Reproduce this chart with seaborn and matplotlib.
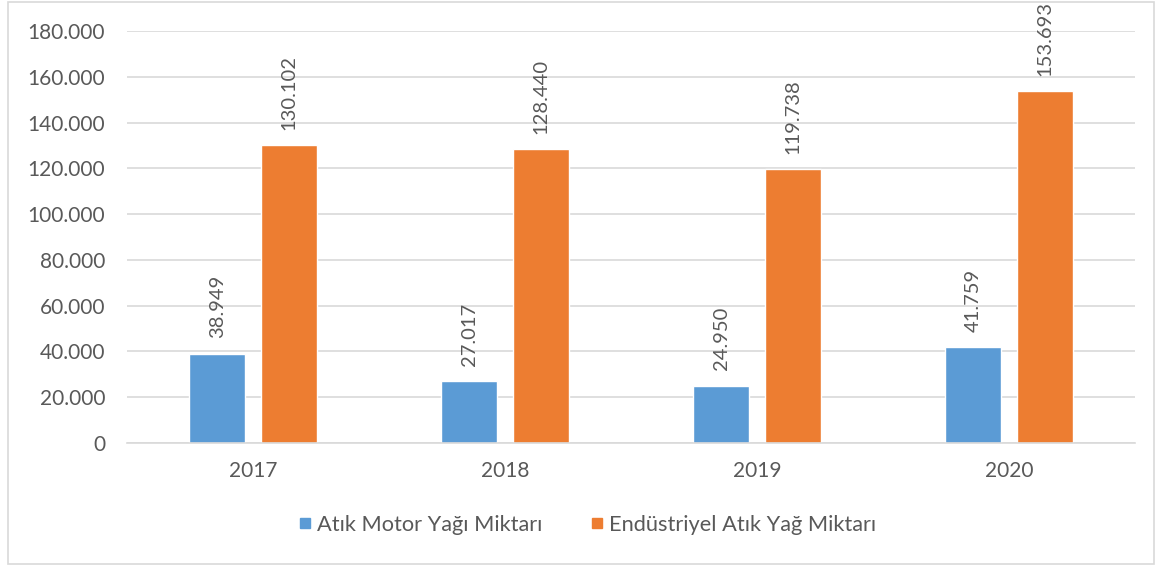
import pandas as pd
import matplotlib.pyplot as plt
import seaborn as sns
from matplotlib.patches import Rectangle

years = ['2017', '2018', '2019', '2020']
motor_yagi = [38949, 27017, 24950, 41759]
endustriyel_yag = [130102, 128440, 119738, 153693]
series = ['Atık Motor Yağı Miktarı', 'Endüstriyel Atık Yağ Miktarı']
colors = ['#5b9bd5', '#ed7d31']

df = pd.DataFrame({
    'Yıl': years * 2,
    'Miktar': motor_yagi + endustriyel_yag,
    'Tür': [series[0]] * 4 + [series[1]] * 4,
})

sns.set_style('white')
plt.rcParams['font.family'] = ['Lato', 'DejaVu Sans']
text_color = '#595959'

fig = plt.figure(figsize=(11.57, 5.67), dpi=100)
ax = fig.add_axes([0.11, 0.219, 0.871, 0.726])

sns.barplot(data=df, x='Yıl', y='Miktar', hue='Tür', palette=colors,
            width=0.571, gap=0.22, saturation=1, ax=ax, legend=False)

def fmt(v):
    return f'{v:,.0f}'.replace(',', '.')

for cont in ax.containers:
    for bar in cont:
        h = bar.get_height()
        ax.annotate(fmt(h), (bar.get_x() + bar.get_width() / 2, h),
                    xytext=(0, 11), textcoords='offset points',
                    rotation=90, ha='center', va='bottom',
                    fontsize=14.5, color=text_color)

ax.set_ylim(0, 180000)
ax.set_xlim(-0.5, 3.5)
ax.set_yticks(range(0, 180001, 20000))
ax.set_yticklabels([fmt(v) for v in range(0, 180001, 20000)])
ax.yaxis.grid(True, color='#d9d9d9', linewidth=1.2)
ax.set_axisbelow(True)
for side in ['top', 'right', 'left']:
    ax.spines[side].set_visible(False)
ax.spines['bottom'].set_color('#d9d9d9')
ax.spines['bottom'].set_linewidth(1.2)
ax.tick_params(axis='both', length=0, labelsize=15, colors=text_color)
ax.tick_params(axis='y', pad=16)
ax.tick_params(axis='x', pad=13)
ax.set_xlabel('')
ax.set_ylabel('')

handles = [plt.Line2D([], [], marker='s', linestyle='', markersize=7.5,
                      color=c) for c in colors]
fig.legend(handles, series, loc='center', bbox_to_anchor=(0.506, 0.074),
           ncol=2, frameon=False, fontsize=15.7, labelcolor=text_color,
           handletextpad=0.05, columnspacing=2.0, handlelength=1.0)

fig.patches.append(Rectangle((0.007, 0.006), 0.99, 0.99, transform=fig.transFigure,
                             fill=False, edgecolor='#d9d9d9', linewidth=1.2))

plt.savefig('out.png', dpi=100)
